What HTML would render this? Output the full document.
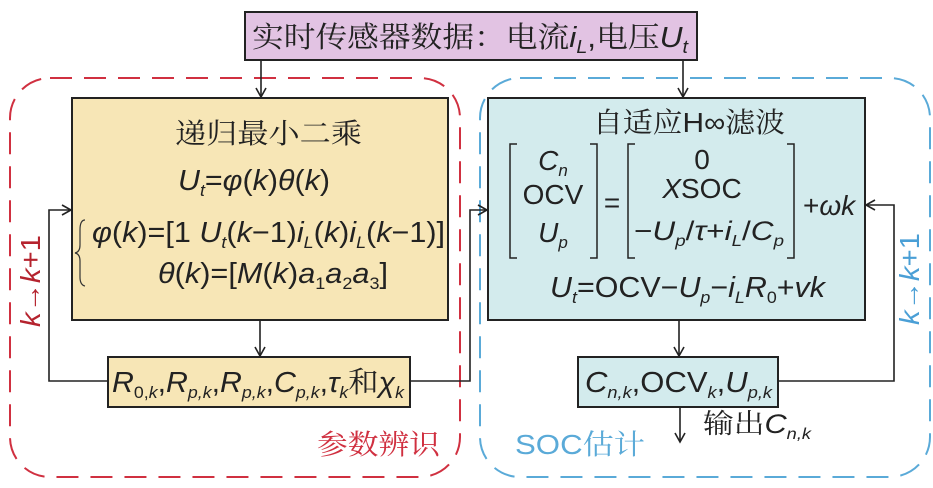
<!DOCTYPE html>
<html><head><meta charset="utf-8"><style>
body{margin:0;background:#fff}
svg{display:block}
text{font-family:"Liberation Sans","Noto Sans CJK SC",sans-serif;fill:#222}
.cn{font-family:"Noto Serif CJK SC","Noto Sans CJK SC",serif}
.i{font-style:italic}
</style></head><body>
<svg width="933" height="488" viewBox="0 0 933 488" xmlns="http://www.w3.org/2000/svg">
<defs><marker id="a" markerWidth="12" markerHeight="12" refX="10" refY="6" orient="auto" markerUnits="userSpaceOnUse"><path d="M1,1 L10,6 L1,11" fill="none" stroke="#222" stroke-width="1.6"/></marker></defs>
<rect x="10" y="78" width="450" height="399" rx="40" fill="none" stroke="#d03040" stroke-width="2" stroke-dasharray="22,12"/>
<rect x="480" y="78" width="450" height="399" rx="40" fill="none" stroke="#5aaad8" stroke-width="2" stroke-dasharray="22,12"/>
<rect x="245" y="12" width="452" height="48" fill="#e2c3e3" stroke="#222" stroke-width="2"/>
<text x="252" y="47" font-size="29" class="cn" textLength="436" lengthAdjust="spacingAndGlyphs">实时传感器数据：电流<tspan class="i" font-family="Liberation Sans">i</tspan><tspan class="i" font-family="Liberation Sans" font-size="18" dy="6">L</tspan><tspan dy="-6" font-family="Liberation Sans">,</tspan>电压<tspan class="i" font-family="Liberation Sans">U</tspan><tspan class="i" font-family="Liberation Sans" font-size="18" dy="6">t</tspan></text>
<line x1="261" y1="60" x2="261" y2="97" stroke="#222" stroke-width="1.6" marker-end="url(#a)"/>
<line x1="683" y1="60" x2="683" y2="97" stroke="#222" stroke-width="1.6" marker-end="url(#a)"/>
<rect x="72" y="98" width="376" height="222" fill="#f7e6b6" stroke="#222" stroke-width="2"/>
<text x="175" y="143" font-size="28" class="cn" textLength="187" lengthAdjust="spacingAndGlyphs">递归最小二乘</text>
<text x="178" y="190" font-size="29" class="i" textLength="152" lengthAdjust="spacingAndGlyphs">U<tspan font-size="17" dy="6">t</tspan><tspan dy="-6" font-style="normal">=</tspan>φ<tspan font-style="normal">(</tspan>k<tspan font-style="normal">)</tspan>θ<tspan font-style="normal">(</tspan>k<tspan font-style="normal">)</tspan></text>
<path d="M85,220 Q80,220 80,230 L80,245 Q80,252 75,253 Q80,254 80,261 L80,277 Q80,285 85,286" fill="none" stroke="#333" stroke-width="1.2"/>
<text x="92" y="242" font-size="29" class="i" textLength="353" lengthAdjust="spacingAndGlyphs">φ<tspan font-style="normal">(</tspan>k<tspan font-style="normal">)=[1 </tspan>U<tspan font-size="17" dy="6">t</tspan><tspan dy="-6" font-style="normal">(</tspan>k<tspan font-style="normal">−1)</tspan>i<tspan font-size="17" dy="6">L</tspan><tspan dy="-6" font-style="normal">(</tspan>k<tspan font-style="normal">)</tspan>i<tspan font-size="17" dy="6">L</tspan><tspan dy="-6" font-style="normal">(</tspan>k<tspan font-style="normal">−1)]</tspan></text>
<text x="158" y="283" font-size="29" class="i" textLength="230" lengthAdjust="spacingAndGlyphs">θ<tspan font-style="normal">(</tspan>k<tspan font-style="normal">)=[</tspan>M<tspan font-style="normal">(</tspan>k<tspan font-style="normal">)</tspan>a<tspan font-size="17" dy="6" font-style="normal">1</tspan><tspan dy="-6">a</tspan><tspan font-size="17" dy="6" font-style="normal">2</tspan><tspan dy="-6">a</tspan><tspan font-size="17" dy="6" font-style="normal">3</tspan><tspan dy="-6" font-style="normal">]</tspan></text>
<line x1="260" y1="320" x2="260" y2="356" stroke="#222" stroke-width="1.6" marker-end="url(#a)"/>
<rect x="108" y="357" width="302" height="50" fill="#f7e6b6" stroke="#222" stroke-width="2"/>
<text x="112" y="392" font-size="29" class="i" textLength="292" lengthAdjust="spacingAndGlyphs">R<tspan font-size="17" dy="6" font-style="normal">0,</tspan><tspan font-size="17">k</tspan><tspan dy="-6" font-style="normal">,</tspan>R<tspan font-size="17" dy="6">p,k</tspan><tspan dy="-6" font-style="normal">,</tspan>R<tspan font-size="17" dy="6">p,k</tspan><tspan dy="-6" font-style="normal">,</tspan>C<tspan font-size="17" dy="6">p,k</tspan><tspan dy="-6" font-style="normal">,</tspan>τ<tspan font-size="17" dy="6">k</tspan><tspan dy="-6" font-style="normal" font-family="Noto Serif CJK SC,serif">和</tspan>χ<tspan font-size="17" dy="6">k</tspan></text>
<polyline points="108,381 49,381 49,210 71,210" fill="none" stroke="#222" stroke-width="1.6" marker-end="url(#a)"/>
<polyline points="410,381 470,381 470,210 487,210" fill="none" stroke="#222" stroke-width="1.6" marker-end="url(#a)"/>
<rect x="488" y="98" width="377" height="222" fill="#d3ebed" stroke="#222" stroke-width="2"/>
<text x="593" y="132" font-size="28" class="cn" textLength="192" lengthAdjust="spacingAndGlyphs">自适应<tspan font-family="Liberation Sans">H∞</tspan>滤波</text>
<path d="M517,144 L510,144 L510,258 L517,258 M590,144 L597,144 L597,258 L590,258" fill="none" stroke="#222" stroke-width="1.5"/>
<path d="M635,144 L628,144 L628,258 L635,258 M787,144 L794,144 L794,258 L787,258" fill="none" stroke="#222" stroke-width="1.5"/>
<text x="553" y="170" font-size="28" text-anchor="middle" class="i">C<tspan font-size="17" dy="6">n</tspan></text>
<text x="553" y="204" font-size="28" text-anchor="middle">OCV</text>
<text x="553" y="242" font-size="28" text-anchor="middle" class="i">U<tspan font-size="17" dy="6">p</tspan></text>
<text x="612" y="212" font-size="28" text-anchor="middle">=</text>
<text x="702" y="169" font-size="28" text-anchor="middle">0</text>
<text x="702" y="198" font-size="28" text-anchor="middle"><tspan class="i">X</tspan>SOC</text>
<text x="634" y="240" font-size="27" class="i" textLength="150" lengthAdjust="spacingAndGlyphs"><tspan font-style="normal">−</tspan>U<tspan font-size="16" dy="6">p</tspan><tspan dy="-6" font-style="normal">/</tspan>τ<tspan font-style="normal">+</tspan>i<tspan font-size="16" dy="6">L</tspan><tspan dy="-6" font-style="normal">/</tspan>C<tspan font-size="16" dy="6">p</tspan></text>
<text x="803" y="215" font-size="28" class="i"><tspan font-style="normal">+</tspan>ωk</text>
<text x="550" y="297" font-size="29" class="i" textLength="275" lengthAdjust="spacingAndGlyphs">U<tspan font-size="17" dy="6">t</tspan><tspan dy="-6" font-style="normal">=OCV−</tspan>U<tspan font-size="17" dy="6">p</tspan><tspan dy="-6" font-style="normal">−</tspan>i<tspan font-size="17" dy="6">L</tspan><tspan dy="-6">R</tspan><tspan font-size="17" dy="6" font-style="normal">0</tspan><tspan dy="-6" font-style="normal">+</tspan>vk</text>
<line x1="679" y1="320" x2="679" y2="356" stroke="#222" stroke-width="1.6" marker-end="url(#a)"/>
<rect x="578" y="357" width="200" height="50" fill="#d3ebed" stroke="#222" stroke-width="2"/>
<text x="585" y="392" font-size="29" class="i" textLength="187" lengthAdjust="spacingAndGlyphs">C<tspan font-size="17" dy="6">n,k</tspan><tspan dy="-6" font-style="normal">,OCV</tspan><tspan font-size="17" dy="6">k</tspan><tspan dy="-6" font-style="normal">,</tspan>U<tspan font-size="17" dy="6">p,k</tspan></text>
<polyline points="778,381 894,381 894,205 866,205" fill="none" stroke="#222" stroke-width="1.6" marker-end="url(#a)"/>
<line x1="680" y1="407" x2="680" y2="442" stroke="#222" stroke-width="1.6" marker-end="url(#a)"/>
<text x="703" y="433" font-size="27" class="cn" textLength="108" lengthAdjust="spacingAndGlyphs">输出<tspan font-family="Liberation Sans" class="i">C</tspan><tspan font-family="Liberation Sans" class="i" font-size="16" dy="6">n,k</tspan></text>
<text x="317" y="454" font-size="28" class="cn" style="fill:#d03040" textLength="123" lengthAdjust="spacingAndGlyphs">参数辨识</text>
<text x="515" y="454" font-size="28" style="fill:#5aaad8" textLength="130" lengthAdjust="spacingAndGlyphs">SOC<tspan class="cn">估计</tspan></text>
<text transform="translate(40,327) rotate(-90)" font-size="28" class="i" style="fill:#b5232e" textLength="92" lengthAdjust="spacingAndGlyphs">k<tspan font-style="normal">→</tspan>k<tspan font-style="normal">+1</tspan></text>
<text transform="translate(919,325) rotate(-90)" font-size="28" class="i" style="fill:#4a9fd6" textLength="92" lengthAdjust="spacingAndGlyphs">k<tspan font-style="normal">→</tspan>k<tspan font-style="normal">+1</tspan></text>
</svg>
</body></html>
